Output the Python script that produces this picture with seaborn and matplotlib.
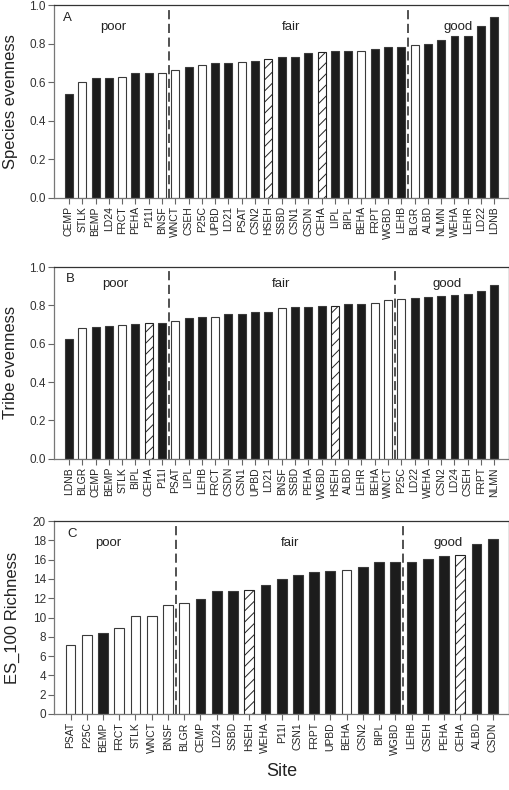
import matplotlib
matplotlib.use("Agg")
import matplotlib.pyplot as plt
import seaborn as sns
import pandas as pd

# Panel A - species evenness
sites_a = ["CEMP", "STLK", "BEMP", "LD24", "FRCT", "PEHA", "P11I", "BNSF", "WNCT", "CSEH",
           "P25C", "UPBD", "LD21", "PSAT", "CSN2", "HSEH", "SSBD", "CSN1", "CSDN", "CEHA",
           "LIPL", "BIPL", "BEHA", "FRPT", "WGBD", "LEHB", "BLGR", "ALBD", "NLMN", "WEHA",
           "LEHR", "LD22", "LDNB"]
species_even = [0.54, 0.60, 0.62, 0.62, 0.625, 0.65, 0.65, 0.65, 0.665, 0.68,
                0.69, 0.70, 0.70, 0.705, 0.71, 0.72, 0.73, 0.73, 0.75, 0.755,
                0.76, 0.76, 0.76, 0.77, 0.78, 0.78, 0.795, 0.80, 0.82, 0.84,
                0.84, 0.89, 0.94]
classes_a = [8, 18, 7]

# Panel B - tribe evenness
sites_b = ["LDNB", "BLGR", "CEMP", "BEMP", "STLK", "BIPL", "CEHA", "P11I", "PSAT", "LIPL",
           "LEHB", "FRCT", "CSDN", "CSN1", "UPBD", "LD21", "BNSF", "SSBD", "PEHA", "WGBD",
           "HSEH", "ALBD", "LEHR", "BEHA", "WNCT", "P25C", "LD22", "WEHA", "CSN2", "LD24",
           "CSEH", "FRPT", "NLMN"]
tribe_even = [0.625, 0.68, 0.685, 0.69, 0.70, 0.705, 0.71, 0.71, 0.72, 0.735,
              0.737, 0.74, 0.753, 0.757, 0.763, 0.765, 0.784, 0.79, 0.793, 0.795,
              0.798, 0.807, 0.807, 0.814, 0.826, 0.831, 0.84, 0.842, 0.85, 0.856,
              0.857, 0.877, 0.908]
classes_b = [8, 17, 8]

# Panel C - ES_100 richness
sites_c = ["PSAT", "P25C", "BEMP", "FRCT", "STLK", "WNCT", "BNSF", "BLGR", "CEMP", "LD24",
           "SSBD", "HSEH", "WEHA", "P11I", "CSN1", "FRPT", "UPBD", "BEHA", "CSN2", "BIPL",
           "WGBD", "LEHB", "CSEH", "PEHA", "CEHA", "ALBD", "CSDN"]
es100 = [7.2, 8.2, 8.4, 8.9, 10.2, 10.2, 11.3, 11.5, 11.9, 12.7,
         12.7, 12.9, 13.4, 14.0, 14.4, 14.7, 14.8, 14.9, 15.2, 15.7,
         15.7, 15.8, 16.1, 16.4, 16.5, 17.6, 18.1]
classes_c = [7, 14, 6]

white_sites = ["STLK", "FRCT", "BNSF", "WNCT", "P25C", "PSAT", "BEHA", "BLGR"]
hatched_sites = ["HSEH", "CEHA"]
class_names = ["poor", "fair", "good"]

sns.set_style("ticks")
plt.rcParams['font.family'] = ['Liberation Sans', 'DejaVu Sans']
plt.rcParams['hatch.linewidth'] = 0.7

fig = plt.figure(figsize=(5.1, 7.9), dpi=100)

W = 510.0
H = 790.0
# axes boxes in pixels: left, top, right, bottom
boxes = [(54.3, 5, 509, 198), (54.3, 267, 509, 458.7), (54.3, 521, 509, 714)]

panels = [
    ("A", sites_a, species_even, classes_a, "Species evenness", (0, 1.0), 0.2, "%.1f", 1.1,
     -0.08, [(0.019, 0.933), (0.129, 0.886), (0.52, 0.886), (0.888, 0.886)]),
    ("B", sites_b, tribe_even, classes_b, "Tribe evenness", (0, 1.0), 0.2, "%.1f", 1.1,
     -0.08, [(0.026, 0.937), (0.134, 0.911), (0.499, 0.911), (0.864, 0.911)]),
    ("C", sites_c, es100, classes_c, "ES_100 Richness", (0, 20), 2, "%d", 1.0,
     -0.075, [(0.028, 0.933), (0.118, 0.886), (0.518, 0.886), (0.866, 0.886)]),
]

for box, panel in zip(boxes, panels):
    letter, sites, vals, classes, ylab, ylim, ystep, yfmt, pad, labx, txtpos = panel
    l, t, r, b = box
    ax = fig.add_axes([l / W, 1 - b / H, (r - l) / W, (b - t) / H])

    df = pd.DataFrame({"site": sites, "value": vals})
    pal = {}
    for s in sites:
        if s in white_sites or s in hatched_sites:
            pal[s] = "white"
        else:
            pal[s] = "#1c1c1c"
    sns.barplot(data=df, x="site", y="value", hue="site", palette=pal, order=sites,
                width=0.6, legend=False, ax=ax, edgecolor="#3a3a3a", linewidth=0.8,
                saturation=1)
    for patch, s in zip(ax.patches, sites):
        if s in hatched_sites:
            patch.set_hatch("///")
            patch.set_edgecolor("#222222")

    n = len(sites)
    ax.set_xlim(-pad, n - 1 + pad)
    ax.set_ylim(*ylim)
    ticks = []
    v = ylim[0]
    while v <= ylim[1] + 1e-9:
        ticks.append(v)
        v += ystep
    ax.set_yticks(ticks)
    ax.set_yticklabels([yfmt % tk for tk in ticks], fontsize=8.5, color="#333333")
    ax.set_xticks(range(n))
    ax.set_xticklabels(sites, rotation=90, fontsize=7.5, color="#222222")
    ax.tick_params(axis="both", direction="out", length=4, width=0.8, color="#666666", pad=2)
    ax.set_xlabel("")
    ax.set_ylabel(ylab, fontsize=12, color="#222222")
    ax.yaxis.set_label_coords(labx, 0.5)

    for sp in ["left", "bottom"]:
        ax.spines[sp].set_color("#777777")
        ax.spines[sp].set_linewidth(0.9)
    for sp in ["top", "right"]:
        ax.spines[sp].set_visible(True)
        ax.spines[sp].set_color("#333333")
        ax.spines[sp].set_linewidth(0.9)

    # class boundaries
    b1 = classes[0] - 0.5
    b2 = classes[0] + classes[1] - 0.5
    for xb in [b1, b2]:
        ax.axvline(xb, color="#222222", linestyle=(0, (6, 3)), linewidth=1.1)

    ax.text(txtpos[0][0], txtpos[0][1], letter, transform=ax.transAxes, fontsize=9.5,
            ha="left", va="center", color="#222222")
    for name, (tx, ty) in zip(class_names, txtpos[1:]):
        ax.text(tx, ty, name, transform=ax.transAxes, fontsize=9.5, ha="center",
                va="center", color="#222222")

fig.text(281.5 / W, 1 - 771 / H, "Site", fontsize=13, ha="center", va="center",
         color="#222222")

fig.savefig("out.png", dpi=100)
